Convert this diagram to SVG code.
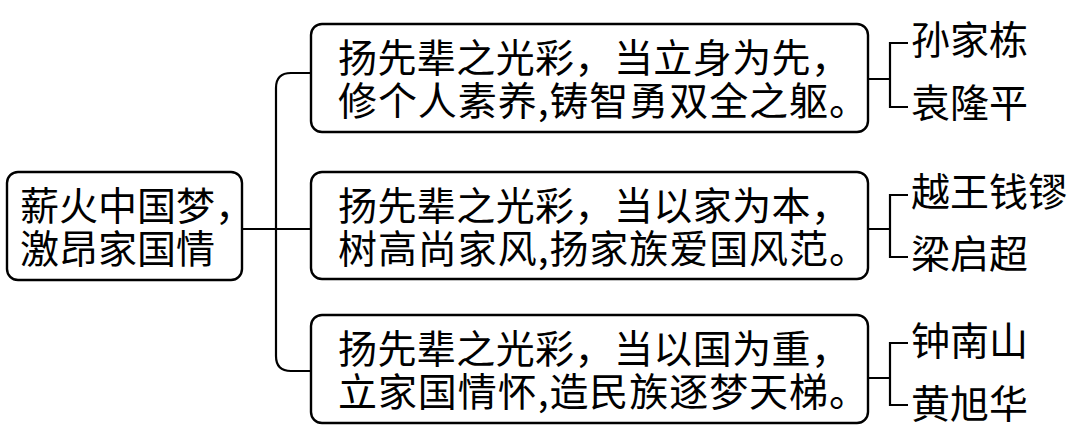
<svg xmlns="http://www.w3.org/2000/svg" width="1080" height="439" viewBox="0 0 1080 439">
<style>
.box{fill:#fff;stroke:#000;stroke-width:2.4}
.ln{fill:none;stroke:#000;stroke-width:2.2}
text{font-family:"Noto Sans CJK SC","Noto Sans CJK JP",sans-serif;font-size:39px;fill:#000}
</style>
<rect width="1080" height="439" fill="#fff"/>
<g id="connectors">
<path class="ln" d="M242,229 H311"/>
<path class="ln" d="M311,73 H291 Q276,73 276,88 V356 Q276,371 291,371 H311"/>
<path class="ln" d="M868,79 H890 M908,43 H890 V107 H908"/>
<path class="ln" d="M868,229 H890 M908,195 H890 V257 H908"/>
<path class="ln" d="M868,378 H890 M908,343 H890 V405 H908"/>
</g>
<g id="root">
<rect class="box" x="7" y="172" width="235" height="108" rx="11"/>
<text x="20" y="220">薪火中国梦，</text>
<text x="20" y="263">激昂家国情</text>
</g>
<g id="n1">
<rect class="box" x="311" y="24" width="557" height="108" rx="11"/>
<text x="338" y="72" textLength="512" lengthAdjust="spacing">扬先辈之光彩，当立身为先，</text>
<text x="338" y="115" textLength="530" lengthAdjust="spacing">修个人素养,铸智勇双全之躯。</text>
</g>
<g id="n2">
<rect class="box" x="311" y="172" width="557" height="107" rx="11"/>
<text x="338" y="220" textLength="512" lengthAdjust="spacing">扬先辈之光彩，当以家为本，</text>
<text x="338" y="263" textLength="530" lengthAdjust="spacing">树高尚家风,扬家族爱国风范。</text>
</g>
<g id="n3">
<rect class="box" x="311" y="315" width="557" height="108" rx="11"/>
<text x="338" y="363" textLength="512" lengthAdjust="spacing">扬先辈之光彩，当以国为重，</text>
<text x="338" y="406" textLength="530" lengthAdjust="spacing">立家国情怀,造民族逐梦天梯。</text>
</g>
<g id="names1">
<text x="911" y="54">孙家栋</text>
<text x="911" y="117">袁隆平</text>
</g>
<g id="names2">
<text x="911" y="206">越王钱镠</text>
<text x="911" y="268">梁启超</text>
</g>
<g id="names3">
<text x="911" y="355">钟南山</text>
<text x="911" y="418">黄旭华</text>
</g>
</svg>
